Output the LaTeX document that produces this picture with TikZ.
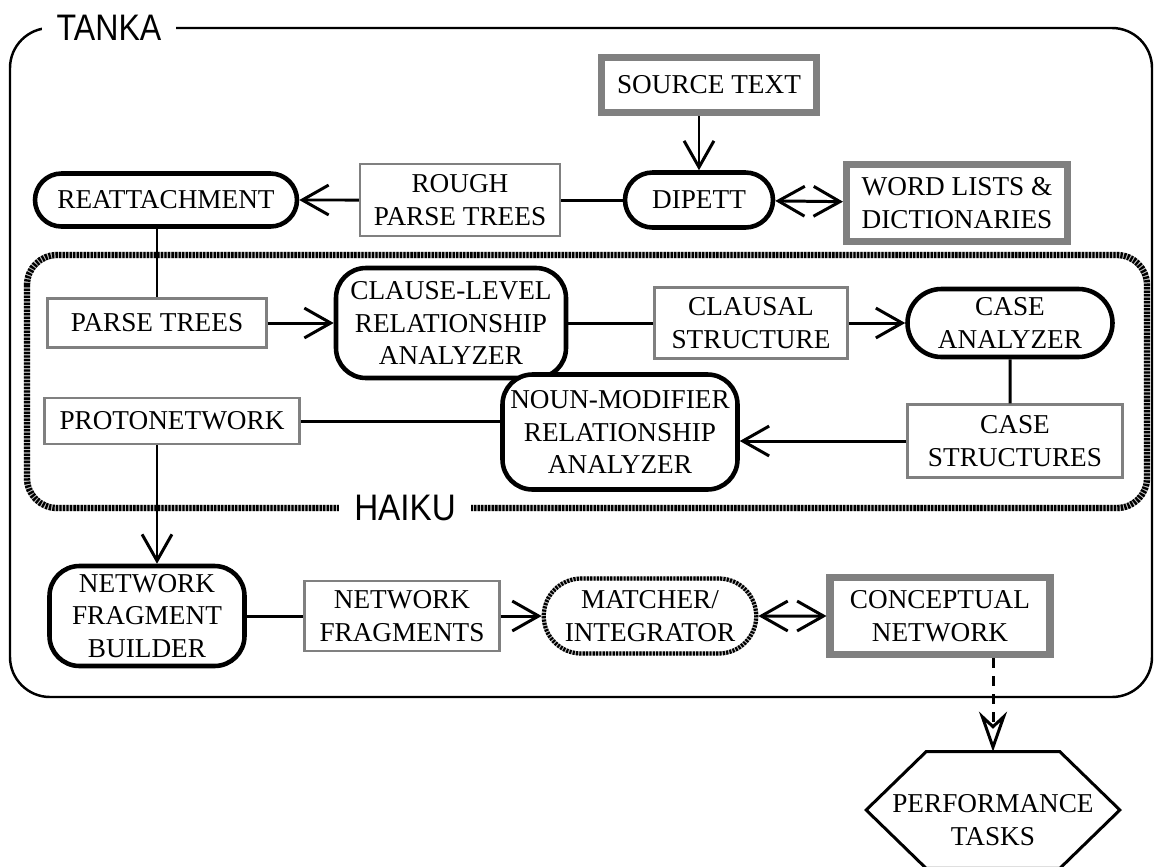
\documentclass[tikz,border=0pt]{standalone}
\usepackage{fontspec}
\setmainfont{Liberation Serif}
\setsansfont{Liberation Sans}
\usetikzlibrary{arrows.meta,shapes.misc}
\tikzset{
  every node/.style={font=\fontsize{15.5}{18.5}\selectfont, align=center, inner sep=0pt},
  proc/.style={draw, line width=2.6pt, rounded corners=0.6cm, fill=white},
  pill/.style={draw, line width=2.6pt, rounded rectangle, fill=white},
  data/.style={draw=gray, line width=1.3pt, fill=white},
  store/.style={draw=gray, line width=4pt, fill=white},
  ropebox/.style={rounded rectangle, draw, line width=2.4pt, dash pattern=on 1.2pt off 0.7pt,
    preaction={fill=white, draw=gray!50, line width=2.4pt, solid}},
  framelabel/.style={fill=white, inner xsep=0.3cm, font=\sffamily\fontsize{21}{21}\selectfont},
  link/.style={line width=1.7pt},
  flow/.style={line width=1.7pt, ->},
  both/.style={line width=1.7pt, <->},
  >={Straight Barb[length=15pt,width=17pt]},
}
\begin{document}
\begin{tikzpicture}
  \useasboundingbox (0,0) rectangle (23.08,-17.34);
  % TANKA frame
  \draw[line width=1.4pt, rounded corners=0.8cm] (0.2,-0.56) rectangle (23.04,-13.94);
  \node[framelabel] (tanka) at (2.18,-0.56) {\scalebox{0.87}[1]{TANKA}};
  % HAIKU frame
  \draw[line width=3.6pt, gray!50, rounded corners=0.6cm] (0.54,-5.1) rectangle (22.94,-10.16);
  \draw[line width=3.6pt, dash pattern=on 1.3pt off 0.7pt, rounded corners=0.6cm] (0.54,-5.1) rectangle (22.94,-10.16);
  \node[framelabel] (haiku) at (8.1,-10.16) {\scalebox{0.9}[1]{HAIKU}};

  \node[store, minimum width=4.3cm, minimum height=1.1cm] (source) at (14.18,-1.7) {SOURCE TEXT};
  \node[pill, minimum width=2.96cm, minimum height=1.1cm] (dipett) at (13.98,-4.0) {DIPETT};
  \node[store, minimum width=4.42cm, minimum height=1.54cm] (words) at (19.14,-4.06) {WORD LISTS \&\\DICTIONARIES};
  \node[data, minimum width=4.0cm, minimum height=1.44cm] (rough) at (9.2,-4.0) {ROUGH\\PARSE TREES};
  \node[pill, minimum width=5.24cm, minimum height=1.06cm] (reattach) at (3.32,-4.0) {REATTACHMENT};

  \node[data, minimum width=4.38cm, minimum height=0.98cm] (parse) at (3.14,-6.46) {PARSE TREES};
  \node[proc, minimum width=4.6cm, minimum height=2.2cm] (clause) at (9.02,-6.46) {CLAUSE-LEVEL\\RELATIONSHIP\\ANALYZER};
  \node[data, minimum width=3.86cm, minimum height=1.42cm] (clausal) at (15.02,-6.46) {CLAUSAL\\STRUCTURE};
  \node[pill, minimum width=4.1cm, minimum height=1.36cm] (caseanal) at (20.2,-6.46) {CASE\\ANALYZER};
  \node[data, minimum width=4.3cm, minimum height=1.46cm] (casestr) at (20.3,-8.82) {CASE\\STRUCTURES};
  \node[proc, minimum width=4.7cm, minimum height=2.3cm] (nounmod) at (12.4,-8.64) {NOUN-MODIFIER\\RELATIONSHIP\\ANALYZER};
  \node[data, minimum width=5.1cm, minimum height=0.92cm] (proto) at (3.44,-8.42) {PROTONETWORK};

  \node[proc, minimum width=3.9cm, minimum height=2.0cm] (netbuild) at (2.94,-12.32) {NETWORK\\FRAGMENT\\BUILDER};
  \node[data, minimum width=3.9cm, minimum height=1.4cm] (netfrag) at (8.04,-12.32) {NETWORK\\FRAGMENTS};
  \node[ropebox, minimum width=4.25cm, minimum height=1.5cm] (matcher) at (13.0,-12.32) {MATCHER/\\INTEGRATOR};
  \node[store, minimum width=4.4cm, minimum height=1.54cm] (concept) at (18.8,-12.32) {CONCEPTUAL\\NETWORK};

  \node[minimum width=5.06cm, minimum height=2.32cm] (perf) at (19.86,-16.2) {};
  \draw[line width=1.7pt] (perf.west) -- ([xshift=1.2cm]perf.north west) -- ([xshift=-1.2cm]perf.north east)
    -- (perf.east) -- ([xshift=-1.2cm]perf.south east) -- ([xshift=1.2cm]perf.south west) -- cycle;
  \node (perftext) at ([yshift=-0.2cm]perf.center) {PERFORMANCE\\TASKS};

  \draw[flow] (source.south -| dipett.north) -- (dipett.north);
  \draw[both] (dipett) -- (words);
  \draw[link] (dipett) -- (rough);
  \draw[flow] (rough) -- (reattach);
  \draw[link] (parse.north |- reattach.south) -- (parse.north);
  \draw[flow] (parse) -- (clause);
  \draw[link] (clause) -- (clausal);
  \draw[flow] (clausal) -- (caseanal);
  \draw[link] (caseanal) -- (caseanal |- casestr.north);
  \draw[flow] (casestr.west) -- (casestr.west -| nounmod.east);
  \draw[link] (nounmod.west |- proto.east) -- (proto.east);
  \draw[flow] (parse.north |- proto.south) -- (parse.north |- netbuild.north);
  \draw[link] (netbuild) -- (netfrag);
  \draw[flow] (netfrag) -- (matcher);
  \draw[both] (matcher) -- (concept);
  \draw[line width=1.7pt, dash pattern=on 0.2cm off 0.16cm, -{Stealth[open, length=0.8cm, width=0.56cm, inset=0.26cm]}]
    (perf.north |- concept.south) -- (perf.north);
\end{tikzpicture}
\end{document}
